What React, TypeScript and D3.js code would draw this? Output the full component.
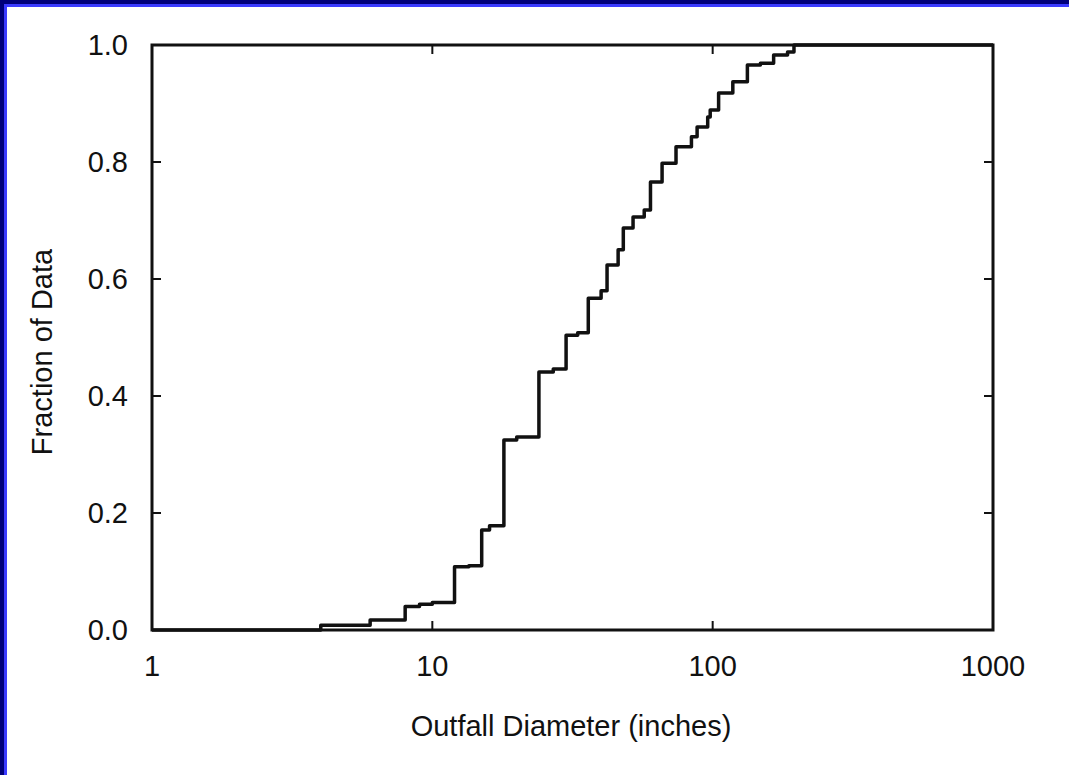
import React from "react";
import * as d3 from "d3";

const diameters = [1, 4, 6, 8, 9, 10, 12, 13.5, 15, 16, 18, 20, 24, 27, 30, 33, 36, 40, 42, 46, 48, 52, 57, 60, 66, 74, 84, 88, 96, 98, 105, 118, 133, 148, 165, 185, 195, 1000];
const fractions = [0, 0.008, 0.017, 0.04, 0.044, 0.047, 0.108, 0.11, 0.171, 0.178, 0.325, 0.33, 0.441, 0.446, 0.504, 0.508, 0.567, 0.58, 0.624, 0.65, 0.687, 0.706, 0.718, 0.766, 0.798, 0.826, 0.843, 0.86, 0.877, 0.889, 0.918, 0.937, 0.966, 0.969, 0.983, 0.988, 1.0, 1.0];

const xTicks = [1, 10, 100, 1000];
const xTickLabels = ["1", "10", "100", "1000"];
const yTicks = [0, 0.2, 0.4, 0.6, 0.8, 1.0];
const yTickLabels = ["0.0", "0.2", "0.4", "0.6", "0.8", "1.0"];

const W = 1069;
const H = 775;
const left = 152, right = 993, top = 45, bottom = 630;
const FONT = "'Liberation Sans', Arial, Helvetica, sans-serif";
const INK = "#111";

export default function App() {
  const x = d3.scaleLog().domain([1, 1000]).range([left, right]);
  const y = d3.scaleLinear().domain([0, 1]).range([bottom, top]);
  const pts: [number, number][] = diameters.map((d, i) => [d, fractions[i]]);
  const line = d3
    .line<[number, number]>()
    .x((p) => x(p[0]))
    .y((p) => y(p[1]))
    .curve(d3.curveStepAfter);
  const tickLen = 9;

  return (
    <svg
      width={W}
      height={H}
      style={{ position: "absolute", left: 0, top: 0, display: "block" }}
      fontFamily={FONT}
    >
      <rect x={0} y={0} width={W} height={H} fill="#00007a" />
      <rect x={4} y={4} width={W - 4} height={H - 4} fill="#3a3aff" />
      <rect x={7} y={7} width={W - 7} height={H - 7} fill="#ffffff" />

      {/* data */}
      <path d={line(pts) ?? ""} fill="none" stroke={INK} strokeWidth={3.5} strokeLinejoin="round" />

      {/* frame */}
      <rect x={left} y={top} width={right - left} height={bottom - top} fill="none" stroke={INK} strokeWidth={3} />

      {/* x ticks */}
      {xTicks.slice(1, -1).map((t) => (
        <g key={"xt" + t}>
          <line x1={x(t)} x2={x(t)} y1={bottom} y2={bottom - tickLen} stroke={INK} strokeWidth={2} />
          <line x1={x(t)} x2={x(t)} y1={top} y2={top + tickLen} stroke={INK} strokeWidth={2} />
        </g>
      ))}
      {/* y ticks */}
      {yTicks.slice(1, -1).map((t) => (
        <g key={"yt" + t}>
          <line x1={left} x2={left + tickLen} y1={y(t)} y2={y(t)} stroke={INK} strokeWidth={2} />
          <line x1={right} x2={right - tickLen} y1={y(t)} y2={y(t)} stroke={INK} strokeWidth={2} />
        </g>
      ))}

      {/* x tick labels */}
      {xTicks.map((t, i) => (
        <text key={"xl" + t} x={x(t)} y={676} textAnchor="middle" fontSize={29} fill={INK}>
          {xTickLabels[i]}
        </text>
      ))}
      {/* y tick labels */}
      {yTicks.map((t, i) => (
        <text key={"yl" + t} x={128} y={y(t)} dy="0.36em" textAnchor="end" fontSize={29} fill={INK}>
          {yTickLabels[i]}
        </text>
      ))}

      <text x={(397 + 745) / 2} y={736} textAnchor="middle" fontSize={29} fill={INK}>
        Outfall Diameter (inches)
      </text>
      <text
        transform={`translate(52, 352) rotate(-90)`}
        textAnchor="middle"
        fontSize={29}
        fill={INK}
      >
        Fraction of Data
      </text>
    </svg>
  );
}
